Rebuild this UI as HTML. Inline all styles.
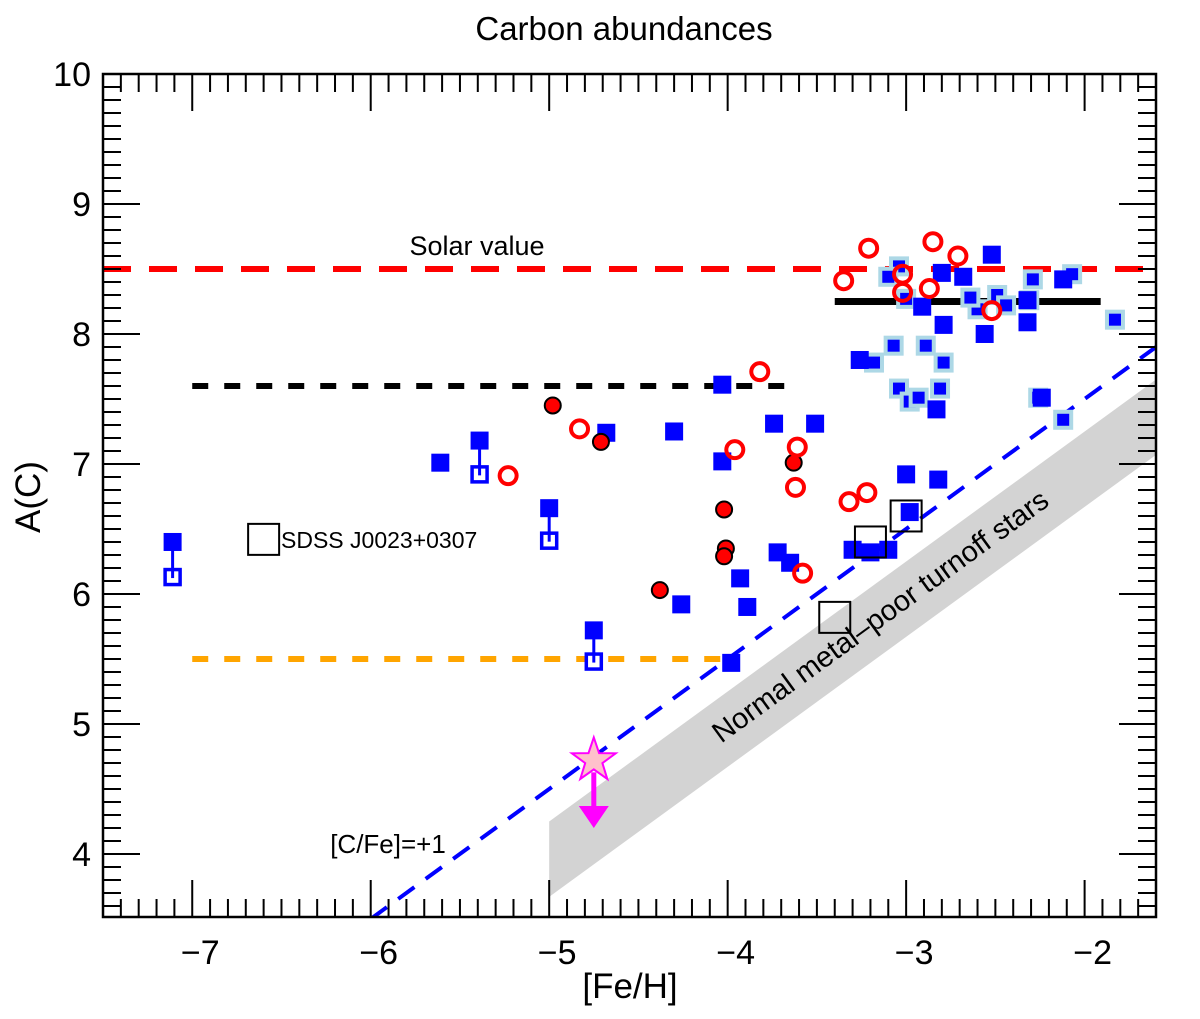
<!DOCTYPE html>
<html><head><meta charset="utf-8"><style>
body{margin:0;background:#fff}
svg text{font-family:"Liberation Sans",Arial,sans-serif;fill:#000}
</style></head><body>
<svg id="chart" width="1200" height="1014" viewBox="0 0 1200 1014" xmlns="http://www.w3.org/2000/svg">
<text x="624" y="40" font-size="33" text-anchor="middle">Carbon abundances</text>
<text x="630" y="998" font-size="35" text-anchor="middle">[Fe/H]</text>
<text x="0" y="0" font-size="35" text-anchor="middle" transform="translate(40,497) rotate(-90)">A(C)</text>
<g id="plot"></g>
</svg>
<script>
const xTicks=[-7,-6,-5,-4,-3,-2];
const yTicks=[4,5,6,7,8,9,10];
// filled blue squares
const blueFe=[-7.11,-5.61,-5.39,-5.0,-4.75,-4.68,-4.30,-4.03,-4.03,-3.98,-4.26,-3.93,-3.89,-3.72,-3.65,-3.51,-3.30,-3.20,-3.10,-3.0,-2.98,-2.82,-2.24,-2.52,-2.80,-2.68,-2.12,-2.91,-2.79,-2.56,-2.32,-2.32,-3.26,-2.83,-3.74];
const blueAC=[6.40,7.01,7.18,6.66,5.72,7.24,7.25,7.61,7.02,5.47,5.92,6.12,5.90,6.32,6.24,7.31,6.34,6.32,6.34,6.92,6.63,6.88,7.51,8.61,8.47,8.44,8.42,8.21,8.07,8.00,8.09,8.26,7.80,7.42,7.31];
// blue squares with light-blue edges
const lbFe=[-3.04,-3.10,-3.0,-2.29,-2.07,-2.49,-2.60,-2.31,-1.83,-3.07,-2.89,-3.18,-2.79,-3.04,-2.81,-2.98,-2.93,-2.26,-2.12,-2.44,-2.64];
const lbAC=[8.52,8.44,8.27,8.42,8.46,8.30,8.19,8.26,8.11,7.91,7.91,7.78,7.78,7.58,7.58,7.48,7.51,7.51,7.34,8.22,8.28];
// upper limits (filled top, open bottom)
const limFe=[-7.11,-5.39,-5.0,-4.75];
const limHi=[6.40,7.18,6.66,5.72];
const limLo=[6.13,6.92,6.41,5.48];
// red open circles
const roFe=[-3.35,-3.21,-2.85,-2.71,-3.02,-3.02,-2.87,-2.52,-3.82,-4.83,-5.23,-3.96,-3.61,-3.62,-3.32,-3.22,-3.58];
const roAC=[8.41,8.66,8.71,8.60,8.46,8.32,8.35,8.18,7.71,7.27,6.91,7.11,7.13,6.82,6.71,6.78,6.16];
// red filled circles with black edge
const rfFe=[-4.98,-4.71,-4.02,-4.01,-4.02,-4.38,-3.63];
const rfAC=[7.45,7.17,6.65,6.35,6.29,6.03,7.01];
// black open squares
const bsFe=[-6.6,-3.2,-3.0,-3.4];
const bsAC=[6.42,6.40,6.60,5.82];
const starFe=[-4.75], starAC=[4.72], starArrowTo=[4.2];
const solar=8.5, blackSolid=8.25, blackDash=7.6, orangeDash=5.5;

const X0=-7.5,X1=-1.6,Y0=3.515,Y1=10;
const L=103,R=1156,T=74,B=917;
const sx=v=>L+(v-X0)/(X1-X0)*(R-L);
const sy=v=>B-(v-Y0)/(Y1-Y0)*(B-T);
const NS='http://www.w3.org/2000/svg';
const g=document.getElementById('plot');
function mk(tag,at,parent){const e=document.createElementNS(NS,tag);for(const k in at)e.setAttribute(k,at[k]);(parent||g).appendChild(e);return e;}
const defs=mk('defs',{});const cp=mk('clipPath',{id:'clip'},defs);mk('rect',{x:L,y:T,width:R-L,height:B-T},cp);
const cg=mk('g',{'clip-path':'url(#clip)'});
let band=mk('polygon',{points:`${sx(-5)},${sy(-5+9.25)} ${sx(X1)},${sy(X1+9.25)} ${sx(X1)},${sy(X1+8.67)} ${sx(-5)},${sy(-5+8.67)}`,fill:'#d3d3d3'},cg);


let l=mk('line',{x1:L,x2:R,y1:sy(solar),y2:sy(solar),stroke:'#f00','stroke-width':6,'stroke-dasharray':'28,18'},cg);


l=mk('line',{x1:sx(-7),x2:sx(-3.63),y1:sy(blackDash),y2:sy(blackDash),stroke:'#000','stroke-width':6,'stroke-dasharray':'16,16'},cg);


l=mk('line',{x1:sx(-7),x2:sx(-4.0),y1:sy(orangeDash),y2:sy(orangeDash),stroke:'#ffa500','stroke-width':6,'stroke-dasharray':'16,16'},cg);


l=mk('line',{x1:sx(-6),x2:sx(X1),y1:sy(3.5),y2:sy(X1+9.5),stroke:'#00f','stroke-width':4,'stroke-dasharray':'20,14'},cg);


l=mk('line',{x1:sx(-3.4),x2:sx(-1.91),y1:sy(blackSolid),y2:sy(blackSolid),stroke:'#000','stroke-width':7},cg);


limFe.forEach((f,i)=>{
 const e=mk('line',{x1:sx(f),x2:sx(f),y1:sy(limHi[i]),y2:sy(limLo[i]),stroke:'#00f','stroke-width':3},cg);
 
 
 const o=mk('rect',{x:sx(f)-7.5,y:sy(limLo[i])-7.5,width:15,height:15,fill:'#fff',stroke:'#00f','stroke-width':3.5},cg);
 
 
 mk('line',{x1:sx(f),x2:sx(f),y1:sy(limLo[i])-7,y2:sy(limLo[i])+1,stroke:'#00f','stroke-width':3},cg);
});
lbFe.forEach((f,i)=>{
 const e=mk('rect',{x:sx(f)-8,y:sy(lbAC[i])-8,width:16,height:16,fill:'#00f',stroke:'#add8e6','stroke-width':4},cg);
 
 
});
blueFe.forEach((f,i)=>{
 const e=mk('rect',{x:sx(f)-9,y:sy(blueAC[i])-9,width:18,height:18,fill:'#00f'},cg);
 
 
});
rfFe.forEach((f,i)=>{
 const e=mk('circle',{cx:sx(f),cy:sy(rfAC[i]),r:8,fill:'#f00',stroke:'#000','stroke-width':2},cg);
 
 
});
roFe.forEach((f,i)=>{
 const e=mk('circle',{cx:sx(f),cy:sy(roAC[i]),r:8.5,fill:'none',stroke:'#f00','stroke-width':4},cg);
 
 
});
bsFe.forEach((f,i)=>{
 const e=mk('rect',{x:sx(f)-15.5,y:sy(bsAC[i])-15.5,width:31,height:31,fill:'none',stroke:'#000','stroke-width':2},cg);
 
 
});
starFe.forEach((f,i)=>{
 const cx=sx(f),cy=sy(starAC[i]),ay=sy(starArrowTo[i]);
 let a=mk('line',{x1:cx,x2:cx,y1:cy+12,y2:ay-20,stroke:'#f0f','stroke-width':5},cg);
 
 
 let h=mk('polygon',{points:`${cx-15},${ay-22} ${cx+15},${ay-22} ${cx},${ay}`,fill:'#f0f'},cg);
 
 
 let p=[];for(let k=0;k<10;k++){const r=k%2?9:23,an=-Math.PI/2+k*Math.PI/5;p.push((cx+r*Math.cos(an)).toFixed(1)+','+(cy+r*Math.sin(an)).toFixed(1));}
 let s=mk('polygon',{points:p.join(' '),fill:'#ffc0cb',stroke:'#f0f','stroke-width':2},cg);
 
 
});
function txt(x,y,s,fs,name,extra){const e=mk('text',Object.assign({x:x,y:y,'font-size':fs},extra||{}));e.textContent=s;return e;}
txt(477,255,'Solar value',27,'solar-value-label',{'text-anchor':'middle'});
txt(388,853,'[C/Fe]=+1',26,'cfe-label',{'text-anchor':'middle'});
txt(281,548,'SDSS J0023+0307',23,'sdss-label');
txt(0,0,'Normal metal\u2013poor turnoff stars',29,'band-label',{'text-anchor':'middle',transform:'translate(886,624) rotate(-36)'});
const ax=mk('rect',{x:L,y:T,width:R-L,height:B-T,fill:'none',stroke:'#000','stroke-width':2.5});


let tk='';
for(let v=Math.round(X0*10);v<=Math.round(X1*10);v++){const x=sx(v/10),len=(v%10===0)?37:18;tk+=`M${x},${B}v${-len}M${x},${T}v${len}`;}
for(let v=Math.ceil(Y0*10);v<=Math.round(Y1*10);v++){const y=sy(v/10),len=(v%10===0)?37:18;tk+=`M${L},${y}h${len}M${R},${y}h${-len}`;}
const tp=mk('path',{d:tk,stroke:'#000','stroke-width':2,fill:'none'});


xTicks.forEach(v=>{txt(sx(v)+8,B+47,'\u2212'+Math.abs(v),34,'x-tick-label',{'text-anchor':'middle'});});
yTicks.forEach(v=>{txt(L-12,sy(v)+12,String(v),34,'y-tick-label',{'text-anchor':'end'});});
</script>
</body></html>
